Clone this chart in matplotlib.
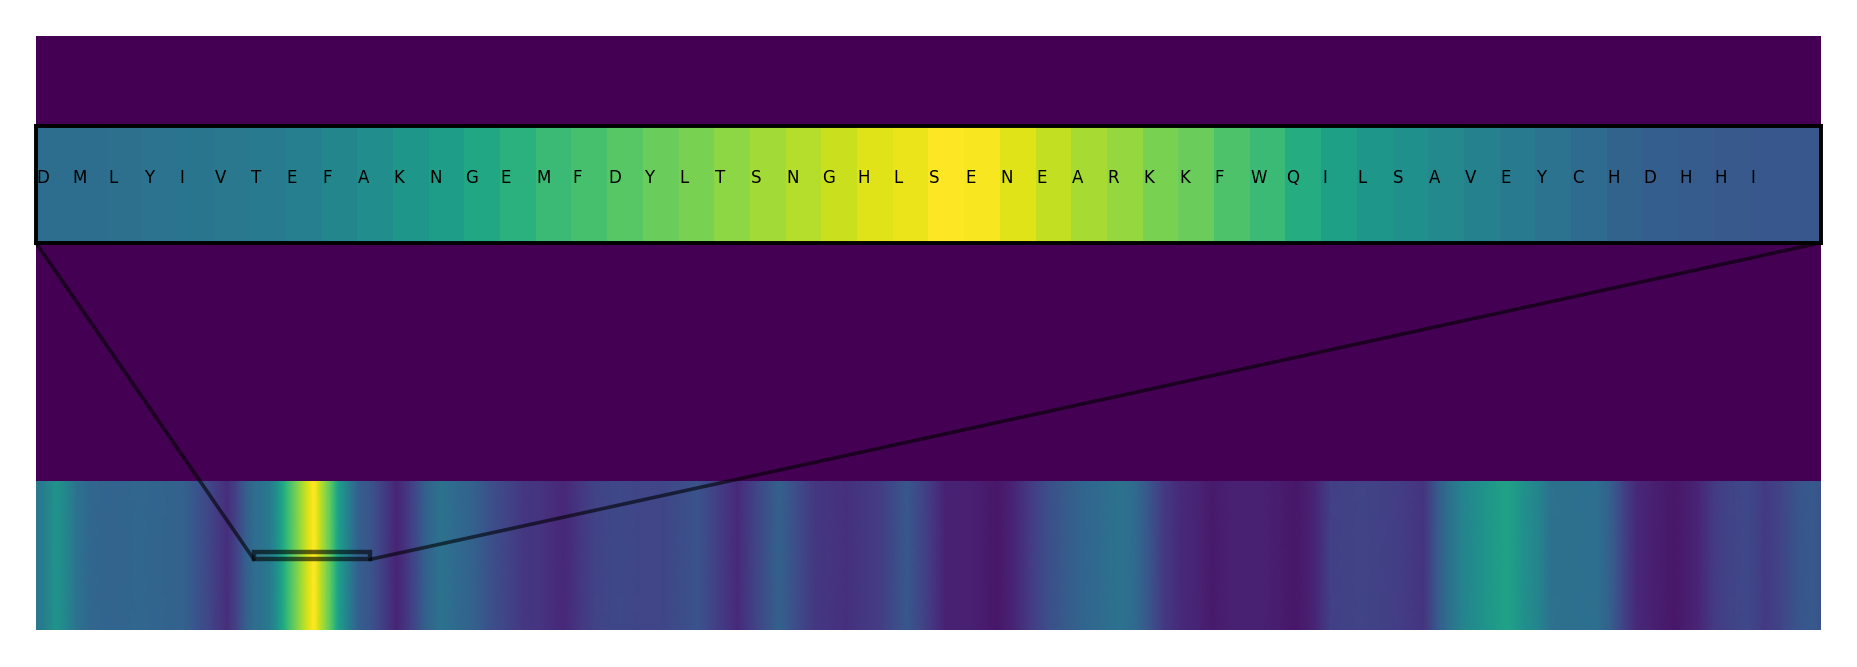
import numpy as np
import matplotlib
matplotlib.use("Agg")
import matplotlib.pyplot as plt
from matplotlib.patches import Rectangle, ConnectionPatch

# ---- data ----
seq_length = 770
window_start = 94          # first residue of zoomed window
window_letters = list("DMLYIVTEFAKNGEMFDYLTSNGHLSENEARKKFWQILSAVEYCHDHHI")
window_values = [0.36, 0.36, 0.37, 0.38, 0.39, 0.40, 0.41, 0.43, 0.46, 0.49,
                 0.53, 0.56, 0.60, 0.64, 0.68, 0.71, 0.74, 0.77, 0.80, 0.83,
                 0.86, 0.89, 0.92, 0.95, 0.97, 1.00, 0.99, 0.95, 0.91, 0.87,
                 0.84, 0.80, 0.77, 0.72, 0.68, 0.62, 0.57, 0.53, 0.50, 0.47,
                 0.44, 0.41, 0.38, 0.35, 0.32, 0.30, 0.29, 0.28, 0.27, 0.27]

left_pos = [-0.5, 3, 8, 13, 17, 23, 33, 44, 54, 63, 69, 75, 82, 86, 90]
left_val = [0.40, 0.42, 0.52, 0.45, 0.38, 0.33, 0.32, 0.33, 0.32, 0.31,
            0.26, 0.20, 0.13, 0.20, 0.30]
right_pos = [148, 155, 161, 167, 174, 181, 188, 195, 203, 210, 217, 227, 234,
             241, 251, 260, 270, 285, 293, 302, 310, 320, 328, 336, 349, 364,
             375, 382, 388, 392, 402, 414, 421, 428, 436, 443, 450, 457, 467,
             474, 480, 486, 493, 500, 507, 515, 529, 543, 551, 558, 572, 587,
             598, 604, 608, 615, 623, 634, 641, 648, 653, 673, 679, 684, 690,
             706, 716, 723, 730, 738, 745, 752, 759, 766, 769.5]
right_val = [0.20, 0.10, 0.18, 0.30, 0.38, 0.34, 0.31, 0.25, 0.20, 0.16, 0.15,
             0.11, 0.16, 0.20, 0.22, 0.21, 0.21, 0.26, 0.19, 0.12, 0.20, 0.31,
             0.23, 0.16, 0.14, 0.18, 0.27, 0.20, 0.14, 0.09, 0.09, 0.06, 0.10,
             0.17, 0.24, 0.28, 0.32, 0.34, 0.38, 0.34, 0.26, 0.17, 0.12, 0.10,
             0.07, 0.09, 0.09, 0.06, 0.10, 0.19, 0.20, 0.18, 0.15, 0.28, 0.35,
             0.45, 0.50, 0.58, 0.50, 0.45, 0.37, 0.36, 0.30, 0.20, 0.11, 0.06,
             0.10, 0.17, 0.20, 0.22, 0.17, 0.20, 0.26, 0.28, 0.25]

# ---- build full profile knots ----
n_win = len(window_values)
win_pos = list(np.arange(window_start, window_start + n_win))
pos = np.array(left_pos + win_pos + right_pos, dtype=float)
val = np.array(left_val + window_values + right_val, dtype=float)

cmap = plt.get_cmap("viridis")

fig = plt.figure(figsize=(18.57, 6.67), dpi=100)
ax = fig.add_axes([36 / 1857, 37 / 667, 1785 / 1857, 594 / 667])
ax.set_facecolor(cmap(0.0))

X = np.vstack([pos, pos])
Y = np.vstack([np.full_like(pos, -0.5), np.full_like(pos, 0.5)])
C = np.vstack([val, val])
ax.pcolormesh(X, Y, C, shading="gouraud", cmap=cmap, vmin=0, vmax=1)
ax.set_xlim(-0.5, seq_length - 0.5)
ax.set_ylim(-0.5, 3.5)
ax.set_xticks([])
ax.set_yticks([])
for s in ax.spines.values():
    s.set_visible(False)

# zoom rectangle on main strip
x0 = window_start - 0.5
x1 = window_start + n_win - 0.5
ry0, ry1 = -0.025, 0.025
rect = Rectangle((x0, ry0), x1 - x0, ry1 - ry0, fill=False,
                 edgecolor="black", alpha=0.6, linewidth=3.2, zorder=5)
ax.add_patch(rect)

# inset
axin = ax.inset_axes([0, 0.652, 1, 0.1965])
axin.imshow(np.array(window_values)[np.newaxis, :], cmap=cmap, vmin=0, vmax=1,
            aspect="auto", extent=(x0, x1, -0.5, 0.5), interpolation="nearest")
axin.set_xlim(x0, x1)
axin.set_ylim(-0.5, 0.5)
axin.set_xticks([])
axin.set_yticks([])
for s in axin.spines.values():
    s.set_linewidth(2.8)
    s.set_color("black")
for i, letter in enumerate(window_letters):
    axin.text(window_start + i - 0.5 + 0.02, 0.01, letter, fontsize=12,
              ha="left", va="baseline", color="black")

# connector lines
for xa, xb in [(0, x0), (1, x1)]:
    cp = ConnectionPatch(xyA=(xa, 0), coordsA=axin.transAxes,
                         xyB=(xb, ry0), coordsB=ax.transData,
                         color="black", alpha=0.6, linewidth=2.6, zorder=4)
    fig.add_artist(cp)

fig.savefig("out.png", dpi=100)
